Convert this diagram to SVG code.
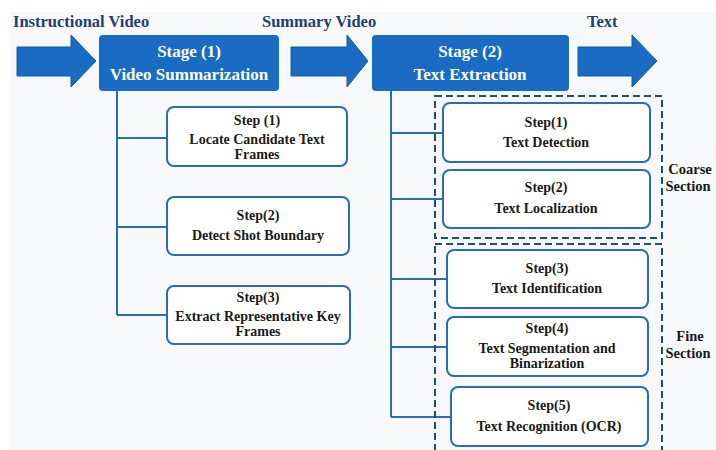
<svg xmlns="http://www.w3.org/2000/svg" width="716" height="450" viewBox="0 0 716 450">
<style>
.hdr{font-family:"Liberation Serif",serif;font-weight:bold;font-size:16.5px;fill:#1f3f6e}
.stg{font-family:"Liberation Serif",serif;font-weight:bold;font-size:17px;fill:#fff;text-anchor:middle}
.st{font-family:"Liberation Serif",serif;font-weight:bold;font-size:14px;fill:#1a1a1a;text-anchor:middle}
.sec{font-family:"Liberation Serif",serif;font-weight:bold;font-size:14.5px;fill:#1a1a1a;text-anchor:middle}
.arrow{fill:#1a6bc4;stroke:#175aa3;stroke-width:1}
.stage{fill:#1a6bc4}
.step{fill:#fff;stroke:#2a6cb8;stroke-width:2}
.dash{fill:none;stroke:#1f4e79;stroke-width:2;stroke-dasharray:7 4}
.conn{fill:none;stroke:#2a6cb8;stroke-width:2}
</style>
<rect x="0" y="0" width="716" height="450" fill="#fff"/>
<rect x="10" y="12" width="706" height="438" fill="#f7f8f9"/>
<text class="hdr" x="13" y="27">Instructional Video</text>
<text class="hdr" x="262" y="27">Summary Video</text>
<text class="hdr" x="587" y="27">Text</text>
<g id="arrows">
<path class="arrow" d="M17,47 L71,47 L71,35 L96,61 L71,87 L71,76 L17,76 Z"/>
<path class="arrow" d="M291,47 L347,47 L347,35 L368,61 L347,87 L347,76 L291,76 Z"/>
<path class="arrow" d="M578,47 L632,47 L632,35 L657,61 L632,87 L632,76 L578,76 Z"/>
</g>
<g id="connectors">
<path class="conn" d="M117,91 V315 M117,138 H167 M117,227 H167 M117,315 H167"/>
<path class="conn" d="M391,91 V417 M391,133 H443 M391,199 H443 M391,279 H447 M391,347 H447 M391,417 H451"/>
</g>
<g id="coarse"><rect class="dash" x="435" y="96" width="227" height="142"/>
<text class="sec" x="690" y="174">Coarse</text><text class="sec" x="688" y="191">Section</text></g>
<g id="fine"><rect class="dash" x="435" y="244" width="227" height="212"/>
<text class="sec" x="690" y="341">Fine</text><text class="sec" x="688" y="358">Section</text></g>
<g id="stage1"><rect class="stage" x="99" y="35" width="180" height="56" rx="4"/>
<text class="stg" x="189" y="57">Stage (1)</text><text class="stg" x="189" y="80">Video Summarization</text></g>
<g id="stage2"><rect class="stage" x="372" y="35" width="197" height="56" rx="4"/>
<text class="stg" x="470" y="57">Stage (2)</text><text class="stg" x="470" y="80">Text Extraction</text></g>
<g id="s1l"><rect class="step" x="167" y="107" width="180" height="59" rx="7"/>
<text class="st" x="257" y="125">Step (1)</text><text class="st" x="257" y="144">Locate Candidate Text</text><text class="st" x="257" y="159">Frames</text></g>
<g id="s2l"><rect class="step" x="167" y="197" width="182" height="58" rx="7"/>
<text class="st" x="258" y="220">Step(2)</text><text class="st" x="258" y="240">Detect Shot Boundary</text></g>
<g id="s3l"><rect class="step" x="167" y="286" width="183" height="58" rx="7"/>
<text class="st" x="258" y="302">Step(3)</text><text class="st" x="258" y="321">Extract Representative Key</text><text class="st" x="258" y="336">Frames</text></g>
<g id="s1r"><rect class="step" x="443" y="103" width="207" height="59" rx="7"/>
<text class="st" x="546" y="127">Step(1)</text><text class="st" x="546" y="147">Text Detection</text></g>
<g id="s2r"><rect class="step" x="443" y="170" width="207" height="58" rx="7"/>
<text class="st" x="546" y="192">Step(2)</text><text class="st" x="546" y="213">Text Localization</text></g>
<g id="s3r"><rect class="step" x="447" y="250" width="201" height="58" rx="7"/>
<text class="st" x="547" y="273">Step(3)</text><text class="st" x="547" y="293">Text Identification</text></g>
<g id="s4r"><rect class="step" x="447" y="317" width="201" height="59" rx="7"/>
<text class="st" x="547" y="333">Step(4)</text><text class="st" x="547" y="353">Text Segmentation and</text><text class="st" x="547" y="368">Binarization</text></g>
<g id="s5r"><rect class="step" x="451" y="387" width="197" height="59" rx="7"/>
<text class="st" x="549" y="410">Step(5)</text><text class="st" x="549" y="431">Text Recognition (OCR)</text></g>
</svg>
